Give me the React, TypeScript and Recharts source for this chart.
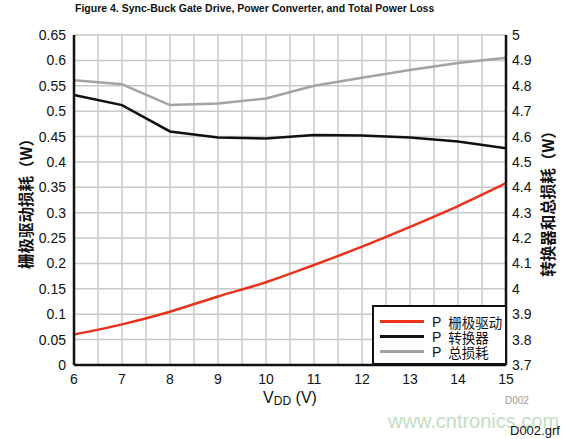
import React from 'react'
import {
  LineChart,
  Line,
  XAxis,
  YAxis,
  CartesianGrid,
} from 'recharts'

const vdd = [6, 7, 8, 9, 10, 11, 12, 13, 14, 15]
const gateDrive = [0.06, 0.08, 0.105, 0.135, 0.163, 0.197, 0.233, 0.272, 0.313, 0.358]
const converter = [4.764, 4.724, 4.62, 4.596, 4.592, 4.606, 4.604, 4.596, 4.58, 4.554]
const totalLoss = [4.822, 4.806, 4.724, 4.73, 4.75, 4.8, 4.832, 4.862, 4.89, 4.91]

// ticks every 0.5 for the grid; only the whole numbers get a label
const xTicks = [6, 6.5, 7, 7.5, 8, 8.5, 9, 9.5, 10, 10.5, 11, 11.5, 12, 12.5, 13, 13.5, 14, 14.5, 15]
const leftTicks = [0, 0.05, 0.1, 0.15, 0.2, 0.25, 0.3, 0.35, 0.4, 0.45, 0.5, 0.55, 0.6, 0.65]
const rightTicks = [3.7, 3.8, 3.9, 4, 4.1, 4.2, 4.3, 4.4, 4.5, 4.6, 4.7, 4.8, 4.9, 5]

const legendNames = ['栅极驱动', '转换器', '总损耗']

const data = vdd.map((v, i) => ({
  vdd: v,
  gate: gateDrive[i],
  conv: converter[i],
  total: totalLoss[i],
}))

const FONT = '"Liberation Sans", Arial, sans-serif'
const CJK = '"Noto Sans CJK SC", sans-serif'
const RED = '#e8321c'
const BLACK = '#111111'
const GRAY = '#a3a3a3'
const legendColors = [RED, BLACK, GRAY]

const tickStyle = { fontSize: 14, fill: '#111', fontFamily: FONT }

function XTitle(props: any) {
  const vb = props.viewBox
  const cx = vb.x + vb.width / 2
  return (
    <text x={cx} y={vb.y + 38} textAnchor="middle" fontFamily={FONT} fill="#111">
      <tspan fontSize={16}>V</tspan>
      <tspan fontSize={12} dy={2}>DD</tspan>
      <tspan fontSize={16} dy={-2}> (V)</tspan>
    </text>
  )
}

export default function App() {
  return (
    <div style={{ position: 'absolute', left: 0, top: 0, width: 565, height: 439, background: '#fff' }}>
      <div
        style={{
          position: 'absolute',
          left: 75,
          top: 2,
          fontFamily: FONT,
          fontWeight: 'bold',
          fontSize: 10.5,
          color: '#111',
          whiteSpace: 'nowrap',
        }}
      >
        Figure 4. Sync-Buck Gate Drive, Power Converter, and Total Power Loss
      </div>
      <LineChart
        width={565}
        height={439}
        data={data}
        margin={{ top: 35, right: 0, bottom: 0, left: 0 }}
      >
        <CartesianGrid yAxisId="left" stroke="#c8c8c8" strokeWidth={1.5} />
        <XAxis
          dataKey="vdd"
          type="number"
          domain={[6, 15]}
          ticks={xTicks}
          interval={0}
          tickFormatter={(v: number) => (Number.isInteger(v) ? String(v) : '')}
          height={74}
          tickLine={false}
          axisLine={{ stroke: '#111', strokeWidth: 2.5 }}
          tick={tickStyle}
          tickMargin={3}
          label={<XTitle />}
        />
        <XAxis
          xAxisId="top"
          dataKey="vdd"
          type="number"
          domain={[6, 15]}
          orientation="top"
          height={0}
          tick={false}
          tickLine={false}
          axisLine={{ stroke: '#111', strokeWidth: 2.5 }}
        />
        <YAxis
          yAxisId="left"
          domain={[0, 0.65]}
          ticks={leftTicks}
          width={74}
          tickLine={false}
          axisLine={{ stroke: '#111', strokeWidth: 2.5 }}
          tick={tickStyle}
          tickMargin={2}
          interval={0}
          label={{
            value: '栅极驱动损耗（W）',
            angle: -90,
            position: 'insideLeft',
            offset: 26,
            style: { fontSize: 15.5, fontWeight: 'bold', fill: '#111', fontFamily: CJK, textAnchor: 'middle' },
          }}
        />
        <YAxis
          yAxisId="right"
          orientation="right"
          domain={[3.7, 5]}
          ticks={rightTicks}
          width={59}
          tickLine={false}
          axisLine={{ stroke: '#111', strokeWidth: 2.5 }}
          tick={tickStyle}
          tickMargin={0}
          interval={0}
          label={{
            value: '转换器和总损耗（W）',
            angle: -90,
            position: 'insideRight',
            offset: 17,
            style: { fontSize: 15.5, fontWeight: 'bold', fill: '#111', fontFamily: CJK, textAnchor: 'middle' },
          }}
        />
        <Line yAxisId="left" type="monotone" dataKey="gate" stroke={RED} strokeWidth={2.5} dot={false} isAnimationActive={false} />
        <Line yAxisId="right" type="linear" dataKey="conv" stroke={BLACK} strokeWidth={2.5} dot={false} isAnimationActive={false} />
        <Line yAxisId="right" type="linear" dataKey="total" stroke={GRAY} strokeWidth={2.5} dot={false} isAnimationActive={false} />
      </LineChart>
      <div
        style={{
          position: 'absolute',
          left: 372,
          top: 305,
          width: 135,
          height: 60,
          background: '#fff',
          border: '2.5px solid #111',
          boxSizing: 'border-box',
          padding: '7px 0 0 6px',
          fontFamily: FONT,
          fontSize: 14,
          color: '#111',
        }}
      >
        {legendNames.map((name, i) => (
          <div key={name} style={{ display: 'flex', alignItems: 'center', height: 15, whiteSpace: 'nowrap' }}>
            <div style={{ width: 44, height: 3, background: legendColors[i], marginRight: 8 }} />
            <span>P</span>
            <span style={{ fontFamily: CJK, fontSize: 13.5, marginLeft: 7 }}>{name}</span>
          </div>
        ))}
      </div>
      <div style={{ position: 'absolute', left: 505, top: 395, fontFamily: FONT, fontSize: 10, color: '#9a9a9a' }}>D002</div>
      <div style={{ position: 'absolute', left: 388, top: 410, fontFamily: FONT, fontSize: 20, color: '#bfe0c0' }}>
        www.cntronics.com
      </div>
      <div style={{ position: 'absolute', left: 510, top: 423, fontFamily: FONT, fontSize: 13, color: '#111' }}>D002.grf</div>
    </div>
  )
}
